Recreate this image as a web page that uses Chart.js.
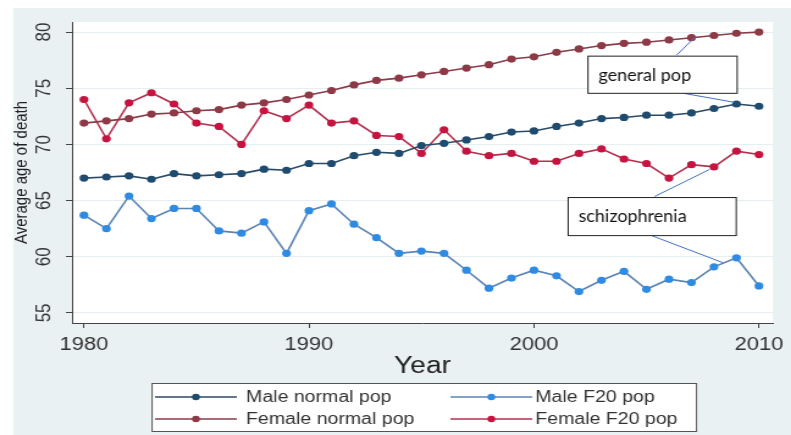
<!DOCTYPE html>
<html>
<head>
<meta charset="utf-8">
<script src="https://cdn.jsdelivr.net/npm/chart.js@4.4.1/dist/chart.umd.min.js"></script>
<style>
  html, body { margin: 0; padding: 0; background: #fff; overflow: hidden; }
  /* the source picture is stretched sideways, so the chart is drawn narrow and scaled */
  #wrap { position: absolute; left: 0; top: 0; width: 648px; height: 435px;
          transform: scaleX(1.2207); transform-origin: 0 0; }
</style>
</head>
<body>
<div id="wrap"><canvas id="c"></canvas></div>
<script>
const SX = 1.2207;

const years = [1980, 1981, 1982, 1983, 1984, 1985, 1986, 1987, 1988, 1989, 1990,
  1991, 1992, 1993, 1994, 1995, 1996, 1997, 1998, 1999, 2000,
  2001, 2002, 2003, 2004, 2005, 2006, 2007, 2008, 2009, 2010];

const maleNormal = [67.0, 67.1, 67.2, 66.9, 67.4, 67.2, 67.3, 67.4, 67.8, 67.7, 68.3,
  68.3, 69.0, 69.3, 69.2, 69.9, 70.1, 70.4, 70.7, 71.1, 71.2,
  71.6, 71.9, 72.3, 72.4, 72.6, 72.6, 72.8, 73.2, 73.6, 73.4];
const maleF20 = [63.7, 62.5, 65.4, 63.4, 64.3, 64.3, 62.3, 62.1, 63.1, 60.3, 64.1,
  64.7, 62.9, 61.7, 60.3, 60.5, 60.3, 58.8, 57.2, 58.1, 58.8,
  58.3, 56.9, 57.9, 58.7, 57.1, 58.0, 57.7, 59.1, 59.9, 57.4];
const femaleNormal = [71.9, 72.1, 72.3, 72.7, 72.8, 73.0, 73.1, 73.5, 73.7, 74.0, 74.4,
  74.8, 75.3, 75.7, 75.9, 76.2, 76.5, 76.8, 77.1, 77.6, 77.8,
  78.2, 78.5, 78.8, 79.0, 79.1, 79.3, 79.5, 79.7, 79.9, 80.0];
const femaleF20 = [74.0, 70.5, 73.7, 74.6, 73.6, 71.9, 71.6, 70.0, 73.0, 72.3, 73.5,
  71.9, 72.1, 70.8, 70.7, 69.2, 71.3, 69.4, 69.0, 69.2, 68.5,
  68.5, 69.2, 69.6, 68.7, 68.3, 67.0, 68.2, 68.0, 69.4, 69.1];

const xTicks = [1980, 1990, 2000, 2010];
const yTicks = [55, 60, 65, 70, 75, 80];

// call-out boxes pasted on the figure (data units)
const notes = [
  { text: 'general pop', box: [2002.4, 77.86, 2009.03, 74.55],
    leaders: [[2006.34, 77.95, 2007.2, 79.64], [2006.65, 74.55, 2008.9, 73.75]] },
  { text: 'schizophrenia', box: [2001.52, 65.27, 2008.99, 61.88],
    leaders: [[2005.36, 65.36, 2007.8, 67.77], [2005.23, 61.88, 2008.41, 59.46]] }
];

const pts = arr => years.map((yr, i) => ({ x: yr, y: arr[i] }));

function series(label, arr, line, dot) {
  return {
    label, data: pts(arr),
    borderColor: line, backgroundColor: dot,
    pointBackgroundColor: dot, pointBorderColor: dot,
    borderWidth: 1.6, pointRadius: 3.6, pointBorderWidth: 0, tension: 0
  };
}

const bgPlugin = {
  id: 'bg',
  beforeDraw(chart) {
    const { ctx, chartArea: a, width, height } = chart;
    ctx.save();
    ctx.fillStyle = '#fff';
    ctx.fillRect(0, 0, width, height);
    ctx.fillStyle = '#eaf1f3';
    ctx.fillRect(10.7, 8, width - 10.7, height - 8);
    ctx.fillStyle = '#fff';
    ctx.fillRect(a.left, a.top, a.right - a.left, a.bottom - a.top);
    ctx.restore();
  }
};

const legendPlugin = {
  id: 'boxLegend',
  afterDraw(chart) {
    const ctx = chart.ctx;
    const lineX = [127, 369], textX = [201.6, 438.5], rowY = [397, 419];
    ctx.save();
    ctx.fillStyle = '#fff';
    ctx.fillRect(124.6, 383, 446, 48);
    ctx.strokeStyle = '#555';
    ctx.lineWidth = 1;
    ctx.strokeRect(124.6, 383.5, 446, 48);
    chart.data.datasets.forEach((ds, i) => {
      const col = i % 2, row = Math.floor(i / 2);
      const x0 = lineX[col], y = rowY[row];
      ctx.strokeStyle = ds.borderColor;
      ctx.lineWidth = 1.4;
      ctx.beginPath(); ctx.moveTo(x0, y); ctx.lineTo(x0 + 67, y); ctx.stroke();
      ctx.fillStyle = ds.pointBackgroundColor;
      ctx.beginPath(); ctx.arc(x0 + 33.5, y, 3.2, 0, Math.PI * 2); ctx.fill();
      ctx.fillStyle = '#333';
      ctx.font = '16px "Liberation Sans", Arial, sans-serif';
      ctx.textBaseline = 'middle';
      ctx.textAlign = 'left';
      ctx.fillText(ds.label, textX[col], y + 1);
    });
    ctx.restore();
  }
};

const notePlugin = {
  id: 'notes',
  afterDraw(chart) {
    const { ctx, scales: { x, y } } = chart;
    ctx.save();
    notes.forEach(n => {
      ctx.strokeStyle = '#4472c4';
      ctx.lineWidth = 1;
      n.leaders.forEach(l => {
        ctx.beginPath();
        ctx.moveTo(x.getPixelForValue(l[0]), y.getPixelForValue(l[1]));
        ctx.lineTo(x.getPixelForValue(l[2]), y.getPixelForValue(l[3]));
        ctx.stroke();
      });
      const l = x.getPixelForValue(n.box[0]), r = x.getPixelForValue(n.box[2]);
      const t = y.getPixelForValue(n.box[1]), b = y.getPixelForValue(n.box[3]);
      ctx.fillStyle = '#fff';
      ctx.fillRect(l, t, r - l, b - t);
      ctx.strokeStyle = '#222';
      ctx.strokeRect(l, t, r - l, b - t);
      ctx.save();
      ctx.translate(l + 8.5, (t + b) / 2);
      ctx.scale(1 / SX, 1);
      ctx.fillStyle = '#111';
      ctx.font = '18px Lato, "Open Sans", sans-serif';
      ctx.textBaseline = 'middle';
      ctx.fillText(n.text, 0, 0);
      ctx.restore();
    });
    ctx.restore();
  }
};

new Chart(document.getElementById('c'), {
  type: 'line',
  data: {
    datasets: [
      series('Male normal pop', maleNormal, '#2b4a66', '#1f4b6e'),
      series('Male F20 pop', maleF20, '#5b84b4', '#2f8be2'),
      series('Female normal pop', femaleNormal, '#8a3c4a', '#8e3946'),
      series('Female F20 pop', femaleF20, '#b3304f', '#c5143f')
    ]
  },
  options: {
    responsive: true,
    maintainAspectRatio: false,
    animation: false,
    layout: { padding: { top: 22, right: 11, bottom: 55, left: 0 } },
    plugins: { legend: { display: false }, tooltip: { enabled: false } },
    scales: {
      x: {
        type: 'linear', min: 1979.47, max: 2010.62,
        afterBuildTicks: s => { s.ticks = xTicks.map(v => ({ value: v })); },
        afterFit: s => { s.height = 57; },
        grid: { drawOnChartArea: false, drawTicks: true, tickLength: 5, tickColor: '#444' },
        border: { display: true, color: '#444', width: 1 },
        ticks: { color: '#333', padding: 6, maxRotation: 0, autoSkip: false,
                 callback: v => String(v),
                 font: { family: '"Liberation Sans", Arial, sans-serif', size: 18 } },
        title: { display: true, text: 'Year', color: '#222', padding: { top: 0, bottom: 0 },
                 font: { family: '"Liberation Sans", Arial, sans-serif', size: 23 } }
      },
      y: {
        min: 54.1, max: 80.9,
        afterBuildTicks: s => { s.ticks = yTicks.map(v => ({ value: v })); },
        afterFit: s => { s.width = 59; },
        grid: { color: '#e6eef1', lineWidth: 1, tickLength: 5, tickColor: '#444' },
        border: { display: true, color: '#444', width: 1 },
        ticks: { color: '#333', padding: 8, minRotation: 90, maxRotation: 90, crossAlign: 'center',
                 callback: v => String(v),
                 font: { family: '"Liberation Sans", Arial, sans-serif', size: 17 } },
        title: { display: true, text: 'Average age of death', color: '#222', padding: { top: 9, bottom: 0 },
                 font: { family: '"Liberation Sans", Arial, sans-serif', size: 15 } }
      }
    }
  },
  plugins: [bgPlugin, legendPlugin, notePlugin]
});
</script>
</body>
</html>
